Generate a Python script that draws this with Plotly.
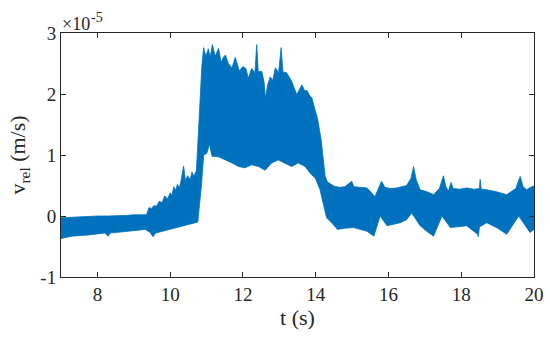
import plotly.graph_objects as go

t_upper = [7.0, 7.3, 7.5, 7.8, 8.0, 8.3, 8.5, 8.8, 9.0, 9.2, 9.35, 9.42, 9.48, 9.55, 9.62, 9.7,
           9.78, 9.85, 9.93, 10.0, 10.05, 10.1, 10.15, 10.2, 10.25, 10.3,
           10.37, 10.42, 10.48, 10.55, 10.6, 10.65, 10.72, 10.78, 10.87, 10.92, 10.98, 11.05, 11.1,
           11.16, 11.24, 11.33, 11.4, 11.46, 11.52, 11.6, 11.7, 11.79, 11.9, 12.0, 12.08, 12.15,
           12.24, 12.33, 12.38, 12.42, 12.52, 12.58, 12.62, 12.68, 12.75, 12.82, 12.89, 12.98,
           13.05, 13.1, 13.2, 13.27, 13.34, 13.48, 13.55, 13.62, 13.7, 13.76, 13.83, 13.9, 13.99, 14.05, 14.15,
           14.26, 14.32, 14.5, 14.65, 14.8, 14.99, 15.05, 15.2, 15.41, 15.63, 15.75, 15.81, 15.9, 16.05, 16.23,
           16.5, 16.62, 16.69, 16.76, 16.87, 17.05, 17.24, 17.4, 17.51, 17.58, 17.65, 17.72, 17.78, 17.95,
           18.15, 18.35, 18.5, 18.52, 18.55, 18.7, 18.95, 19.25, 19.5, 19.62, 19.7, 19.8, 19.9, 20.0]
v_upper = [-0.03, -0.02, -0.01, -0.01, 0.0, 0.0, 0.0, 0.01, 0.02, 0.02, 0.02, 0.14, 0.12, 0.17, 0.16, 0.24,
           0.22, 0.33, 0.28, 0.38, 0.34, 0.48, 0.42, 0.52, 0.46, 0.58,
           0.82, 0.58, 0.66, 0.6, 0.72, 0.65, 0.74, 1.4, 2.45, 2.76, 2.62, 2.74, 2.6,
           2.81, 2.62, 2.75, 2.52, 2.6, 2.64, 2.5, 2.43, 2.6, 2.38, 2.45, 2.42, 2.26,
           2.42, 2.35, 2.81, 2.37, 2.37, 2.2, 1.93, 2.15, 2.28, 2.22, 2.43, 2.35,
           2.76, 2.36, 2.35, 2.28, 2.21, 1.99, 2.08, 2.15, 2.05, 2.06, 1.98, 1.93, 1.72, 1.6, 1.25,
           0.65, 0.56, 0.49, 0.47, 0.48, 0.57, 0.48, 0.47, 0.46, 0.32, 0.5, 0.57, 0.47, 0.45, 0.46,
           0.5, 0.62, 0.81, 0.6, 0.43, 0.4, 0.35, 0.45, 0.66, 0.48, 0.41, 0.55, 0.45, 0.44,
           0.46, 0.44, 0.45, 0.6, 0.44, 0.43, 0.4, 0.35, 0.45, 0.65, 0.48, 0.43, 0.47, 0.49]

t_lower = [7.0, 7.3, 7.76, 8.2, 8.3, 8.35, 8.68, 9.0, 9.32, 9.45, 9.53, 9.6, 9.87, 10.1, 10.32, 10.5, 10.69,
           10.76, 10.8, 10.86, 10.92, 11.01, 11.08, 11.15, 11.33, 11.52, 11.7, 11.88, 12.06, 12.24,
           12.43, 12.61, 12.79, 12.97, 13.16, 13.34, 13.52, 13.71, 13.85, 13.99, 14.12, 14.2,
           14.3, 14.45, 14.6, 14.8, 15.04, 15.2, 15.41, 15.6, 15.77, 15.96, 16.32, 16.5, 16.64, 16.87, 17.05, 17.24,
           17.47, 17.7, 17.9, 18.15, 18.45, 18.47, 18.5, 18.7, 19.0, 19.25, 19.58, 19.89, 20.0]
v_lower = [-0.37, -0.33, -0.31, -0.28, -0.33, -0.28, -0.25, -0.24, -0.22, -0.27, -0.34, -0.28, -0.25, -0.21, -0.17, -0.14, -0.11,
           -0.1, 0.05, 0.5, 1.0, 1.03, 1.18, 0.98, 0.97, 0.92, 0.87, 0.81, 0.79, 0.84,
           0.81, 0.75, 0.87, 0.92, 0.87, 0.81, 0.87, 0.81, 0.70, 0.62, 0.43, 0.22,
           -0.03, -0.12, -0.22, -0.2, -0.19, -0.22, -0.25, -0.33, 0.0, -0.16, -0.11, -0.06, 0.05, -0.16, -0.25, -0.33,
           0.0, -0.19, -0.17, -0.16, -0.3, -0.34, -0.18, -0.11, -0.2, -0.3, 0.0, -0.27, -0.22]

x_ticks = [8, 10, 12, 14, 16, 18, 20]
y_ticks = [-1, 0, 1, 2, 3]

COLOR = "#0072BD"
AXC = "#262626"
FONT = "Liberation Serif"

fig = go.Figure()
fig.add_trace(go.Scatter(
    x=t_upper + t_lower[::-1],
    y=v_upper + v_lower[::-1],
    mode="lines", fill="toself", fillcolor=COLOR,
    line=dict(color=COLOR, width=0.8),
    hoverinfo="skip", showlegend=False,
))

axis_common = dict(
    showgrid=False, zeroline=False, showline=True, linecolor=AXC, linewidth=1,
    mirror="allticks", ticks="inside", ticklen=5, tickcolor=AXC, tickwidth=1,
    tickfont=dict(family=FONT, size=19, color=AXC), automargin=False,
)
fig.update_layout(
    width=550, height=338,
    margin=dict(l=61, r=16, t=33, b=61),
    paper_bgcolor="white", plot_bgcolor="white",
    xaxis=dict(range=[7, 20], tickvals=x_ticks, ticktext=[str(v) for v in x_ticks],
               title=dict(text="t (s)", font=dict(family=FONT, size=22, color=AXC), standoff=5),
               **axis_common),
    yaxis=dict(range=[-1, 3], tickvals=y_ticks, ticktext=[str(v) for v in y_ticks],
               title=dict(text="v<sub>rel</sub> (m/s)", font=dict(family=FONT, size=22, color=AXC), standoff=8),
               **axis_common),
    annotations=[
        dict(text="×10", xref="paper", yref="paper", x=0, y=1,
             xanchor="left", yanchor="bottom", showarrow=False, xshift=-1, yshift=-3,
             font=dict(family=FONT, size=18, color=AXC)),
        dict(text="-5", xref="paper", yref="paper", x=0, y=1,
             xanchor="left", yanchor="bottom", showarrow=False, xshift=28, yshift=6,
             font=dict(family=FONT, size=14, color=AXC)),
    ],
)

fig.write_html("out.html", config={"displayModeBar": False},
               post_script="document.body.style.margin='0px';document.body.style.overflow='hidden';")
